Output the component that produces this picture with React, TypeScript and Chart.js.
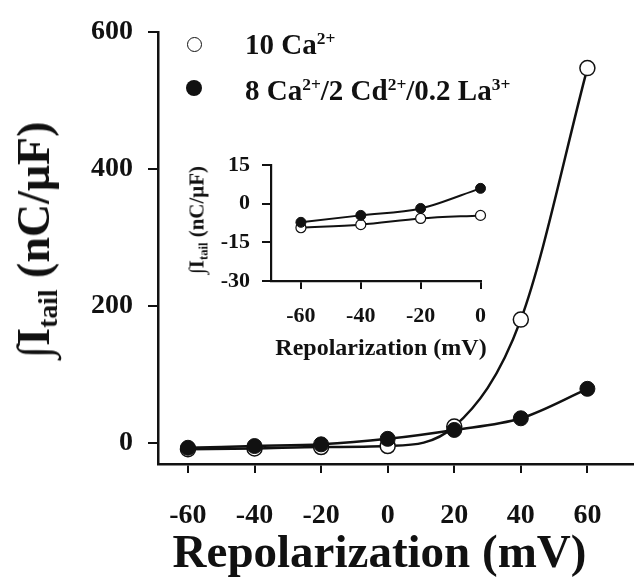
import React, { useEffect, useRef } from "react";
import { Chart, registerables } from "chart.js";

Chart.register(...registerables);

// ---- Data ----
const voltages = [-60, -40, -20, 0, 20, 40, 60];
const ca10 = [-9, -8, -6, -4.5, 24, 180, 547];
const blockers = [-7, -4.5, -2, 6, 19, 36, 79];
const mainXTicks = [-60, -40, -20, 0, 20, 40, 60];
const mainYTicks = [0, 200, 400, 600];

const insetVoltages = [-60, -40, -20, 0];
const insetCa10 = [-9.3, -8.1, -5.7, -4.5];
const insetBlockers = [-7.2, -4.5, -1.8, 6.0];
const insetXTicks = [-60, -40, -20, 0];
const insetYTicks = [-30, -15, 0, 15];

const FONT = '"Liberation Serif", "Times New Roman", serif';
const INK = "#111";

const pts = (xs: number[], ys: number[]) => xs.map((x, i) => ({ x, y: ys[i] }));

export default function App() {
  const mainRef = useRef<HTMLCanvasElement>(null);
  const insetRef = useRef<HTMLCanvasElement>(null);

  useEffect(() => {
    document.body.style.margin = "0";
    const axisCommon = (size: number, pad: number, tl: number, bw: number) => ({
      type: "linear" as const,
      grid: {
        display: true,
        drawOnChartArea: false,
        drawTicks: true,
        tickLength: tl,
        color: INK,
        lineWidth: 2,
      },
      border: { display: true, color: INK, width: bw },
      ticks: {
        font: { family: FONT, size, weight: "bold" as const },
        color: INK,
        padding: pad,
        maxRotation: 0,
        autoSkip: false,
      },
    });

    const main = new Chart(mainRef.current!, {
      type: "line",
      data: {
        datasets: [
          {
            label: "8 Ca2+/2 Cd2+/0.2 La3+",
            data: pts(voltages, blockers),
            borderColor: INK,
            backgroundColor: INK,
            pointBackgroundColor: INK,
            pointBorderColor: INK,
            pointBorderWidth: 1,
            pointRadius: 7.5,
            borderWidth: 2.5,
            cubicInterpolationMode: "monotone",
            clip: false,
          },
          {
            label: "10 Ca2+",
            data: pts(voltages, ca10),
            borderColor: INK,
            backgroundColor: "#fff",
            pointBackgroundColor: "#fff",
            pointBorderColor: INK,
            pointBorderWidth: 1.5,
            pointRadius: 7.5,
            borderWidth: 2.5,
            cubicInterpolationMode: "monotone",
            clip: false,
          },
        ],
      },
      options: {
        responsive: false,
        animation: false,
        layout: { padding: { top: 26.7, right: 6, left: 0, bottom: 0 } },
        plugins: { legend: { display: false }, tooltip: { enabled: false } },
        scales: {
          x: {
            ...axisCommon(28, 26, 9, 2.5),
            min: -69,
            max: 73.7,
            afterBuildTicks: (s: any) => {
              s.ticks = mainXTicks.map((v) => ({ value: v }));
            },
            afterFit: (s: any) => {
              s.height = 579 - 464;
            },
          },
          y: {
            ...axisCommon(28, 15, 10, 2.5),
            min: -30.7,
            max: 600,
            afterBuildTicks: (s: any) => {
              s.ticks = mainYTicks.map((v) => ({ value: v }));
            },
            afterFit: (s: any) => {
              s.width = 158;
            },
          },
        },
      },
    });

    const inset = new Chart(insetRef.current!, {
      type: "line",
      data: {
        datasets: [
          {
            label: "8 Ca2+/2 Cd2+/0.2 La3+",
            data: pts(insetVoltages, insetBlockers),
            borderColor: INK,
            backgroundColor: INK,
            pointBackgroundColor: INK,
            pointBorderColor: INK,
            pointBorderWidth: 1,
            pointRadius: 5,
            borderWidth: 2,
            cubicInterpolationMode: "monotone",
            clip: false,
          },
          {
            label: "10 Ca2+",
            data: pts(insetVoltages, insetCa10),
            borderColor: INK,
            backgroundColor: "#fff",
            pointBackgroundColor: "#fff",
            pointBorderColor: INK,
            pointBorderWidth: 1.2,
            pointRadius: 5,
            borderWidth: 2,
            cubicInterpolationMode: "monotone",
            clip: false,
          },
        ],
      },
      options: {
        responsive: false,
        animation: false,
        layout: { padding: { top: 17, right: 14, left: 0, bottom: 0 } },
        plugins: { legend: { display: false }, tooltip: { enabled: false } },
        scales: {
          x: {
            ...axisCommon(22, 14, 8, 2.2),
            min: -70,
            max: 0,
            afterBuildTicks: (s: any) => {
              s.ticks = insetXTicks.map((v) => ({ value: v }));
            },
            afterFit: (s: any) => {
              s.height = 59;
            },
          },
          y: {
            ...axisCommon(22, 12, 9, 2.2),
            min: -30,
            max: 15,
            afterBuildTicks: (s: any) => {
              s.ticks = insetYTicks.map((v) => ({ value: v }));
            },
            afterFit: (s: any) => {
              s.width = 81;
            },
          },
        },
      },
    });

    return () => {
      main.destroy();
      inset.destroy();
    };
  }, []);

  const sup = (t: string) => (
    <span style={{ fontSize: "0.6em", position: "relative", top: "-0.55em" }}>{t}</span>
  );
  const sub = (t: string) => (
    <span style={{ fontSize: "0.6em", position: "relative", top: "0.3em" }}>{t}</span>
  );

  const textBase: React.CSSProperties = {
    position: "absolute",
    fontFamily: FONT,
    fontWeight: "bold",
    color: INK,
    lineHeight: 1,
    whiteSpace: "nowrap",
  };

  return (
    <div style={{ position: "relative", width: 642, height: 579, background: "#fff", overflow: "hidden" }}>
      <canvas ref={mainRef} width={642} height={579} style={{ position: "absolute", left: 0, top: 0 }} />
      <canvas ref={insetRef} width={310} height={200} style={{ position: "absolute", left: 190, top: 140 }} />

      {/* Legend */}
      <div
        style={{
          position: "absolute",
          left: 194 - 7.5,
          top: 44 - 7.5,
          width: 15,
          height: 15,
          boxSizing: "border-box",
          border: `1.5px solid ${INK}`,
          borderRadius: "50%",
          background: "#fff",
        }}
      />
      <div
        style={{
          position: "absolute",
          left: 194 - 8,
          top: 88 - 8,
          width: 16,
          height: 16,
          borderRadius: "50%",
          background: INK,
        }}
      />
      <div style={{ ...textBase, fontSize: 29, left: 245, top: 54 - 24.3 }}>
        10 Ca{sup("2+")}
      </div>
      <div style={{ ...textBase, fontSize: 29, left: 245, top: 100 - 24.3 }}>
        8 Ca{sup("2+")}/2 Cd{sup("2+")}/0.2 La{sup("3+")}
      </div>

      {/* Main axis titles */}
      <div style={{ ...textBase, fontSize: 47, left: 379.5, top: 567 - 0.8375 * 47, transform: "translateX(-50%)" }}>
        Repolarization (mV)
      </div>
      <div
        style={{
          ...textBase,
          fontSize: 46,
          left: 50 - 0.3375 * 46,
          top: 239.5,
          transform: "translate(-50%, -50%) rotate(-90deg)",
        }}
      >
        ∫I{sub("tail")} (nC/μF)
      </div>

      {/* Inset axis titles */}
      <div style={{ ...textBase, fontSize: 24, left: 381, top: 355 - 0.8375 * 24, transform: "translateX(-50%)" }}>
        Repolarization (mV)
      </div>
      <div
        style={{
          ...textBase,
          fontSize: 21,
          left: 204 - 0.3375 * 21,
          top: 219.5,
          transform: "translate(-50%, -50%) rotate(-90deg)",
        }}
      >
        ∫I{sub("tail")} (nC/μF)
      </div>
    </div>
  );
}
